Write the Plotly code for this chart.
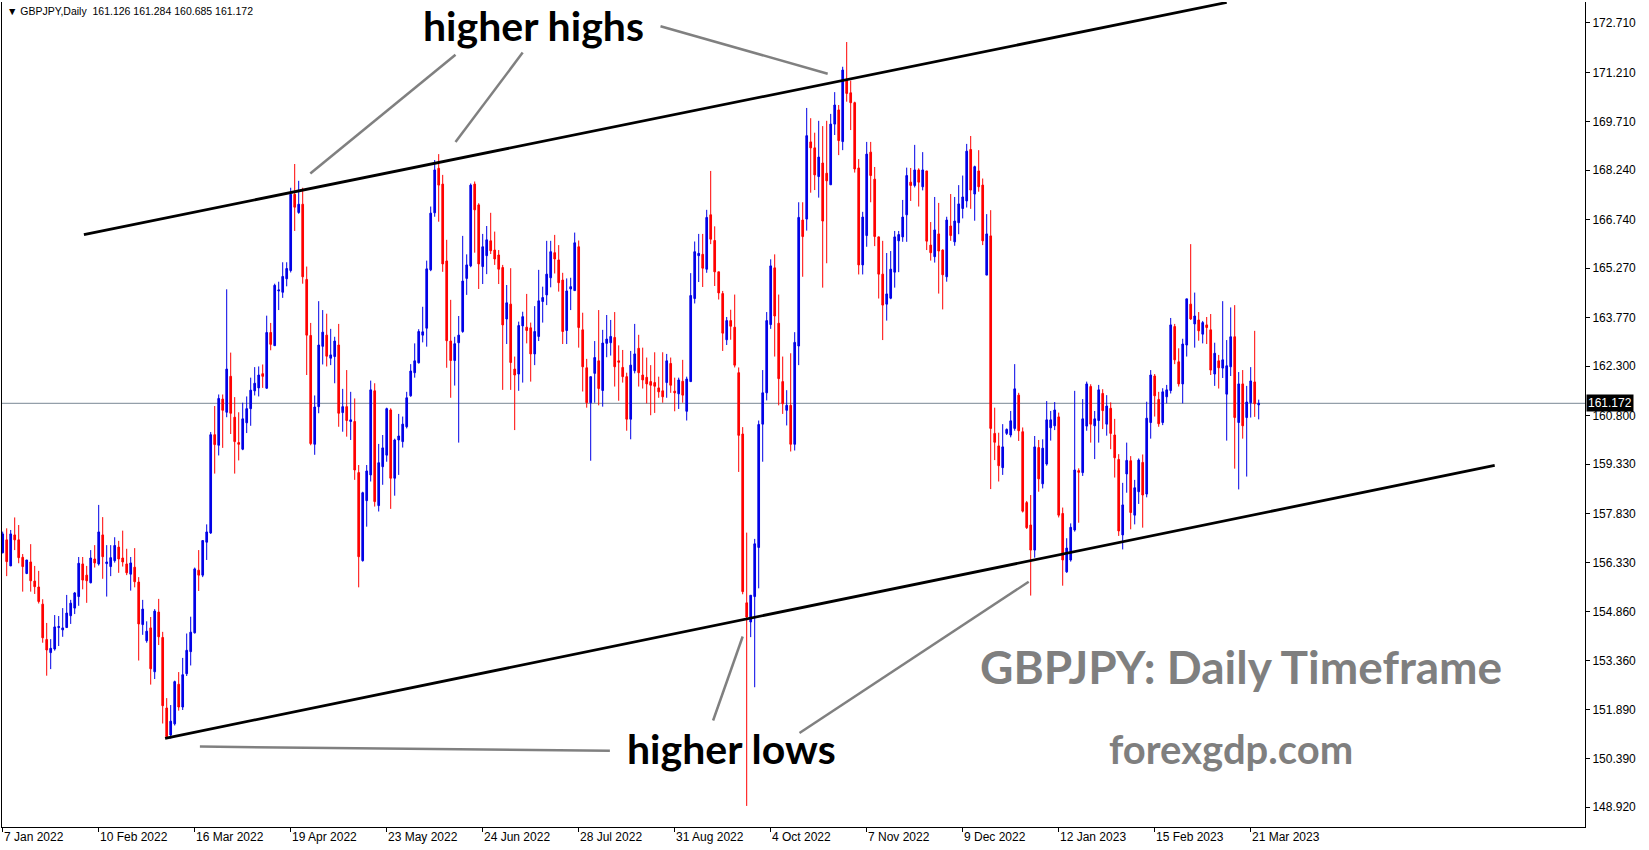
import plotly.graph_objects as go
import pandas as pd

# ---------------- data ----------------
opens = [156.64,157.03,156.24,157.18,157.03,156.50,156.01,156.36,155.78,155.60,
         155.08,154.01,153.61,153.72,154.37,154.30,154.37,154.73,154.96,155.31,
         156.30,155.96,155.73,156.45,156.30,157.18,156.31,156.22,156.40,156.81,
         156.48,156.30,155.99,156.20,155.75,154.46,153.97,154.36,153.03,154.84,
         154.07,151.93,151.11,151.45,152.65,151.96,152.97,153.64,154.21,156.11,
         155.96,156.96,157.24,160.22,159.90,161.30,160.90,161.99,160.75,159.98,
         159.78,160.58,161.01,161.55,161.64,162.07,161.63,163.32,162.92,164.58,
         164.54,164.95,165.20,167.51,166.96,167.21,164.93,163.23,159.93,161.07,
         162.90,163.24,162.54,162.59,162.94,160.89,161.07,160.62,160.62,159.07,
         156.40,158.22,159.00,161.55,158.07,159.25,159.60,160.97,158.90,160.06,
         160.01,160.46,161.40,162.10,162.40,163.24,163.45,165.22,166.95,168.30,
         167.82,165.49,163.06,162.47,163.01,163.35,164.96,165.34,167.82,167.19,
         165.32,165.65,166.10,165.82,165.67,165.29,163.73,164.18,162.21,162.06,
         163.52,163.48,163.46,162.67,163.20,164.26,164.46,164.98,165.74,165.52,
         164.91,163.38,164.64,164.59,165.92,163.40,162.25,161.19,162.08,162.46,
         161.56,162.99,163.01,163.17,162.46,162.26,161.98,160.69,162.16,162.84,
         162.03,161.96,161.83,161.80,161.64,161.55,161.80,162.38,161.54,161.46,
         161.84,160.93,161.83,164.35,165.65,165.69,165.24,166.89,166.11,165.16,
         164.50,163.10,163.68,163.48,162.10,160.24,155.12,154.54,155.31,156.80,
         160.54,161.49,163.56,165.28,163.60,161.83,160.96,161.11,159.93,162.91,
         166.73,166.76,169.10,168.92,168.05,168.46,168.15,167.80,169.64,170.07,
         169.11,170.96,170.59,170.29,168.31,165.37,166.26,168.79,167.97,166.22,
         165.09,164.18,164.36,165.15,166.10,166.22,166.89,167.88,167.78,168.25,
         167.74,168.22,165.97,165.62,166.31,165.82,165.01,166.55,166.07,166.65,
         167.08,167.31,168.87,167.52,168.22,167.79,165.06,166.25,160.26,159.88,
         159.22,160.26,160.21,160.41,161.42,160.31,158.16,157.48,156.72,159.83,
         158.73,159.33,160.43,160.49,160.76,157.83,156.06,156.42,157.33,159.13,
         159.07,160.48,161.68,160.49,160.65,161.47,160.54,161.02,160.21,159.47,
         157.18,159.03,159.43,157.78,158.49,159.38,158.42,160.59,162.00,161.29,
         160.59,161.37,161.56,163.50,162.43,161.76,162.94,164.18,163.58,163.70,
         163.27,163.55,163.40,162.06,162.46,162.24,161.45,162.28,163.19,160.59,
         161.76,160.74,161.19,161.82,161.126]
highs = [157.28,157.38,157.33,157.71,157.48,156.60,156.42,156.90,156.24,156.09,
         155.23,154.51,154.02,154.75,154.72,154.96,155.36,155.21,155.45,156.51,
         156.51,156.24,156.72,156.87,158.09,157.72,156.87,156.87,157.11,157.00,
         157.31,156.76,156.51,156.78,155.90,155.21,154.56,154.69,154.93,155.24,
         154.24,152.23,152.02,152.76,153.02,153.45,154.19,154.70,156.19,156.72,
         157.01,157.50,160.30,161.09,161.44,161.44,164.63,162.71,161.36,160.90,
         161.19,161.38,161.95,162.27,162.29,162.35,163.83,163.61,164.80,164.86,
         165.45,165.45,167.71,168.43,167.92,167.71,165.32,163.61,161.41,164.27,
         164.00,163.89,163.43,163.19,163.58,161.61,162.18,161.52,161.32,159.30,
         158.49,159.30,161.86,161.78,159.94,160.21,161.04,161.02,160.10,160.85,
         160.77,161.52,162.36,162.99,163.42,164.10,165.50,167.14,168.55,168.73,
         168.10,166.13,164.31,163.19,163.82,166.25,165.69,167.84,167.90,167.24,
         166.31,166.55,166.95,166.38,165.82,165.37,164.76,165.27,162.59,163.65,
         163.95,164.49,163.62,164.12,165.22,164.71,166.10,166.10,166.28,165.97,
         165.13,164.96,164.98,166.35,166.11,163.92,162.52,161.98,163.06,164.00,
         163.40,163.85,163.70,163.94,162.93,162.79,162.10,162.76,163.58,163.25,
         162.86,162.56,162.33,162.72,161.98,162.72,162.67,162.56,161.95,161.95,
         162.49,161.98,165.12,166.08,166.31,166.31,167.04,168.22,166.54,165.16,
         164.58,163.79,164.01,164.47,162.26,160.45,157.25,155.35,157.06,160.65,
         162.18,163.94,165.54,165.69,164.47,162.59,161.57,162.69,163.33,167.27,
         167.27,170.13,169.82,169.38,169.74,169.58,169.74,169.95,170.61,170.22,
         171.38,172.13,170.96,170.32,168.58,166.98,169.10,169.10,168.34,166.23,
         166.10,165.73,165.79,166.40,166.40,167.34,168.32,168.31,169.01,168.30,
         168.79,168.22,166.67,167.43,167.25,165.84,166.83,167.52,167.43,167.79,
         168.08,169.04,169.28,168.38,168.85,167.99,166.91,167.03,161.04,160.28,
         160.54,160.41,160.94,162.36,161.49,160.44,158.21,158.39,160.18,160.06,
         160.08,161.24,160.94,161.21,160.89,158.01,157.08,157.53,161.55,159.20,
         161.30,161.83,161.75,160.94,161.73,161.60,161.42,161.20,160.70,159.63,
         158.76,159.98,159.57,158.85,159.50,159.62,161.22,162.18,162.06,161.52,
         161.63,161.73,163.76,163.58,162.84,163.13,164.34,166.00,164.53,163.94,
         163.67,163.79,163.88,163.01,162.64,164.27,163.09,164.08,164.15,162.12,
         162.18,161.70,162.27,163.37,161.284]
lows = [156.62,155.93,156.24,156.72,156.32,155.46,155.99,155.46,155.39,155.10,
        153.91,152.91,153.11,153.67,153.81,154.09,154.37,154.48,154.78,155.03,
        155.53,155.12,155.71,156.19,156.25,155.85,155.31,155.93,156.34,156.03,
        156.22,155.96,155.49,155.59,153.37,154.15,153.91,152.64,152.81,153.84,
        151.46,151.01,151.00,151.40,151.85,151.87,152.90,153.22,154.19,155.48,
        155.90,156.42,157.21,159.04,159.59,159.82,160.75,160.24,159.04,159.44,
        159.75,160.27,160.49,161.41,161.38,161.64,161.61,162.78,162.92,164.00,
        164.37,164.72,165.14,166.40,166.92,164.80,162.03,159.90,159.61,160.87,
        162.35,162.29,162.33,161.78,160.46,160.31,160.16,160.06,158.85,155.59,
        156.37,157.43,158.80,158.04,157.89,158.70,159.40,157.97,158.37,159.00,
        159.83,160.41,161.37,161.95,162.38,163.02,162.89,165.18,166.83,166.68,
        165.16,162.25,161.34,161.71,159.98,163.31,164.46,165.30,165.74,164.64,
        164.79,165.09,165.70,165.37,164.79,161.58,162.97,161.58,160.36,161.55,
        161.80,162.99,161.83,162.33,163.06,163.62,164.15,164.69,165.11,164.56,
        162.97,162.97,164.00,164.59,162.86,161.53,161.04,159.43,161.19,161.11,
        161.07,162.57,162.62,161.68,161.25,161.80,160.34,160.08,162.08,161.68,
        161.62,161.17,160.81,160.88,161.34,161.19,161.34,161.49,160.93,161.00,
        161.19,160.65,161.83,164.20,164.85,164.70,165.13,166.00,164.73,164.32,
        162.76,162.94,163.10,162.26,159.09,155.38,148.96,154.08,152.56,155.56,
        159.40,161.26,163.43,162.59,161.11,160.85,160.50,159.71,159.74,162.33,
        165.01,166.41,167.56,167.64,167.41,164.68,165.42,167.80,169.31,168.70,
        168.85,170.32,169.46,168.17,165.08,165.08,165.92,167.27,165.94,164.35,
        163.09,163.68,164.33,164.68,165.15,166.07,166.07,167.31,167.72,167.14,
        167.63,165.82,165.50,165.44,164.50,164.02,164.86,166.10,165.95,166.30,
        166.78,167.11,167.07,166.71,167.59,165.97,165.06,158.57,159.45,158.80,
        159.00,160.21,160.14,160.34,160.03,157.86,157.36,155.34,156.49,158.49,
        158.59,159.28,160.04,160.36,157.71,155.64,156.03,156.37,157.28,157.55,
        158.97,160.34,159.98,159.48,159.98,160.39,160.19,159.78,158.92,157.15,
        156.74,158.46,157.35,157.50,158.12,157.40,158.32,160.10,160.77,160.46,
        160.51,161.17,161.47,162.36,161.68,161.17,162.59,163.70,162.86,163.07,
        162.99,162.97,162.03,161.70,161.62,161.94,160.04,162.00,159.19,158.56,
        160.10,158.95,160.74,160.76,160.685]
closes = [157.21,156.37,157.21,157.03,156.49,156.22,156.42,155.79,155.61,155.16,
          154.06,153.69,153.74,154.39,154.40,154.36,154.81,155.11,155.42,156.32,
          155.81,155.79,156.48,156.33,157.27,156.52,156.36,156.49,156.86,156.45,
          156.36,156.03,156.33,155.76,154.48,154.93,154.26,153.12,154.87,154.09,
          152.00,151.06,151.53,152.73,151.96,152.94,153.68,154.23,156.15,155.96,
          157.01,157.27,160.22,159.92,161.32,160.96,162.21,160.87,160.01,159.93,
          160.70,161.01,161.57,161.78,162.03,161.99,163.32,162.96,164.75,164.61,
          165.02,165.26,167.51,167.12,167.21,165.01,163.24,159.95,161.06,162.94,
          163.33,162.60,162.64,163.06,160.87,161.07,160.65,160.67,159.15,156.52,
          158.46,159.12,161.58,158.19,159.37,159.82,161.01,158.90,160.06,160.18,
          160.54,161.34,162.15,162.46,163.35,163.34,165.25,166.94,168.25,167.79,
          165.40,163.07,162.47,162.98,163.24,164.88,165.37,167.79,167.04,165.40,
          165.92,166.13,165.80,165.55,165.24,163.55,164.22,162.41,162.03,163.53,
          163.80,163.38,162.67,163.35,164.28,164.38,165.09,165.77,165.55,164.83,
          163.35,164.58,164.71,166.04,163.47,162.28,161.19,161.98,162.56,161.62,
          163.00,163.12,163.20,162.28,162.42,161.98,160.69,162.33,162.67,162.10,
          161.88,161.76,161.72,161.69,161.52,161.37,162.46,161.72,161.49,161.88,
          161.42,161.91,164.44,165.77,165.72,165.27,166.81,166.15,165.16,164.52,
          163.30,163.68,163.51,162.33,160.20,155.46,154.69,155.35,156.91,160.53,
          161.49,163.68,165.34,163.82,161.92,161.16,161.11,159.93,163.02,166.81,
          166.23,169.29,168.92,168.10,168.64,166.70,167.92,169.64,170.22,169.14,
          171.28,170.57,170.29,168.28,165.37,166.82,168.73,168.08,166.23,165.09,
          164.15,164.49,165.24,166.22,166.29,166.82,168.08,167.78,168.25,167.88,
          168.25,166.09,165.74,166.43,165.79,165.07,166.73,166.26,166.70,167.22,
          167.43,168.82,167.64,168.35,167.74,166.10,166.31,160.41,159.99,159.28,
          159.85,160.38,160.64,161.61,160.34,157.90,157.40,156.72,159.85,158.88,
          159.81,160.67,160.67,160.97,157.78,156.42,156.78,157.41,159.15,159.08,
          160.70,161.76,160.54,160.70,161.58,160.95,161.09,160.26,159.52,157.30,
          158.09,159.44,157.86,158.61,159.45,158.39,160.72,162.03,161.40,160.55,
          161.52,161.58,163.55,162.49,161.76,162.97,164.34,163.73,163.82,163.37,
          163.62,163.47,162.18,162.69,162.25,162.49,162.31,163.19,160.74,161.76,
          160.49,161.21,161.85,161.16,161.172]

# trading-day categories (daily bars, weekdays)
dates = pd.bdate_range("2022-01-07", periods=len(closes)).strftime("%d %b %Y").tolist()
bar_index = list(range(len(closes)))

x_tick_labels = ["7 Jan 2022", "10 Feb 2022", "16 Mar 2022", "19 Apr 2022", "23 May 2022",
                 "24 Jun 2022", "28 Jul 2022", "31 Aug 2022", "4 Oct 2022", "7 Nov 2022",
                 "9 Dec 2022", "12 Jan 2023", "15 Feb 2023", "21 Mar 2023"]
y_tick_values = [172.71, 171.21, 169.71, 168.24, 166.74, 165.27, 163.77, 162.30, 160.80,
                 159.33, 157.83, 156.33, 154.86, 153.36, 151.89, 150.39, 148.92]
bid_price = 161.172
header_text = "▼ GBPJPY,Daily  161.126 161.284 160.685 161.172"

# ---------------- styles / positions ----------------
BLUE = "#0000E6"
RED = "#FF0000"
GREY = "#808080"
AXIS_FONT = dict(family="Liberation Sans", size=12, color="black")
HEADER_FONT = dict(family="Liberation Sans", size=10.5, color="black")
X_TICK_STEP = 24

fig = go.Figure()
fig.add_trace(go.Candlestick(
    x=bar_index, open=opens, high=highs, low=lows, close=closes,
    text=dates, hoverinfo="text+y",
    increasing=dict(line=dict(color=BLUE, width=1), fillcolor=BLUE),
    decreasing=dict(line=dict(color=RED, width=1), fillcolor=RED),
    whiskerwidth=0, showlegend=False,
))

shapes = []
# channel lines (index, price)
channel = [((20.3, 166.29), (306.0, 173.33)), ((40.6, 151.01), (373.0, 159.29))]
for (xa, ya), (xb, yb) in channel:
    shapes.append(dict(type="line", xref="x", yref="y", x0=xa, y0=ya, x1=xb, y1=yb,
                       line=dict(color="black", width=2.8), layer="above"))
# pointer lines
pointers = [((113.2, 171.745), (76.9, 168.14)), ((130.0, 171.81), (113.2, 169.10)),
            ((164.45, 172.61), (206.25, 171.17)), ((49.3, 150.76), (151.8, 150.63)),
            ((177.6, 151.55), (185.0, 154.10)), ((199.2, 151.17), (256.5, 155.76))]
for (xa, ya), (xb, yb) in pointers:
    shapes.append(dict(type="line", xref="x", yref="y", x0=xa, y0=ya, x1=xb, y1=yb,
                       line=dict(color=GREY, width=2.5), layer="above"))
# bid line
shapes.append(dict(type="line", xref="paper", yref="y", x0=0, x1=1, y0=bid_price, y1=bid_price,
                   line=dict(color="#7a8794", width=1), layer="below"))

annotations = []
for k, lab in enumerate(x_tick_labels):
    annotations.append(dict(x=k * X_TICK_STEP, y=0, xref="x", yref="paper", text=lab,
                            showarrow=False, xanchor="left", yanchor="middle", yshift=-10,
                            xshift=-1, font=AXIS_FONT))
annotations.append(dict(x=1, y=bid_price, xref="paper", yref="y", text="161.172",
                        showarrow=False, xanchor="left", yanchor="middle", xshift=1,
                        bgcolor="black", font=dict(family="Liberation Sans", size=12, color="white"),
                        borderpad=1))
annotations.append(dict(x=0, y=1, xref="paper", yref="paper", text=header_text,
                        showarrow=False, xanchor="left", yanchor="top", xshift=3, yshift=-1,
                        font=HEADER_FONT))
big = [("<b>higher highs</b>", 132.8, 172.62, "black", 41),
       ("<b>higher lows</b>", 182.1, 150.69, "black", 41),
       ("<b>GBPJPY: Daily Timeframe</b>", 309.6, 153.20, "#7f7f7f", 46),
       ("<b>forexgdp.com</b>", 307.1, 150.69, "#7f7f7f", 40)]
for txt, xx, yy, col, sz in big:
    annotations.append(dict(x=xx, y=yy, xref="x", yref="y", text=txt, showarrow=False,
                            xanchor="center", yanchor="middle",
                            font=dict(family="Lato", size=sz, color=col)))

fig.update_layout(
    width=1649, height=850,
    margin=dict(l=2, r=64, t=2, b=23),
    paper_bgcolor="white", plot_bgcolor="white",
    boxgap=0.4,
    shapes=shapes, annotations=annotations,
    xaxis=dict(range=[-0.175, 395.575], showgrid=False, zeroline=False,
               showline=True, linecolor="black", linewidth=1,
               ticks="outside", ticklen=4, tickcolor="black",
               tickvals=[k * X_TICK_STEP for k in range(len(x_tick_labels))],
               showticklabels=False, rangeslider=dict(visible=False)),
    yaxis=dict(range=[148.321, 173.344], side="right", showgrid=False, zeroline=False,
               showline=True, mirror=True, linecolor="black", linewidth=1,
               ticks="outside", ticklen=4, tickcolor="black",
               tickvals=y_tick_values, ticktext=[f"{v:.3f}" for v in y_tick_values],
               tickfont=AXIS_FONT),
)

fig.write_html("out.html", config={"displayModeBar": False},
               post_script="document.body.style.margin='0';document.body.style.overflow='hidden';")
